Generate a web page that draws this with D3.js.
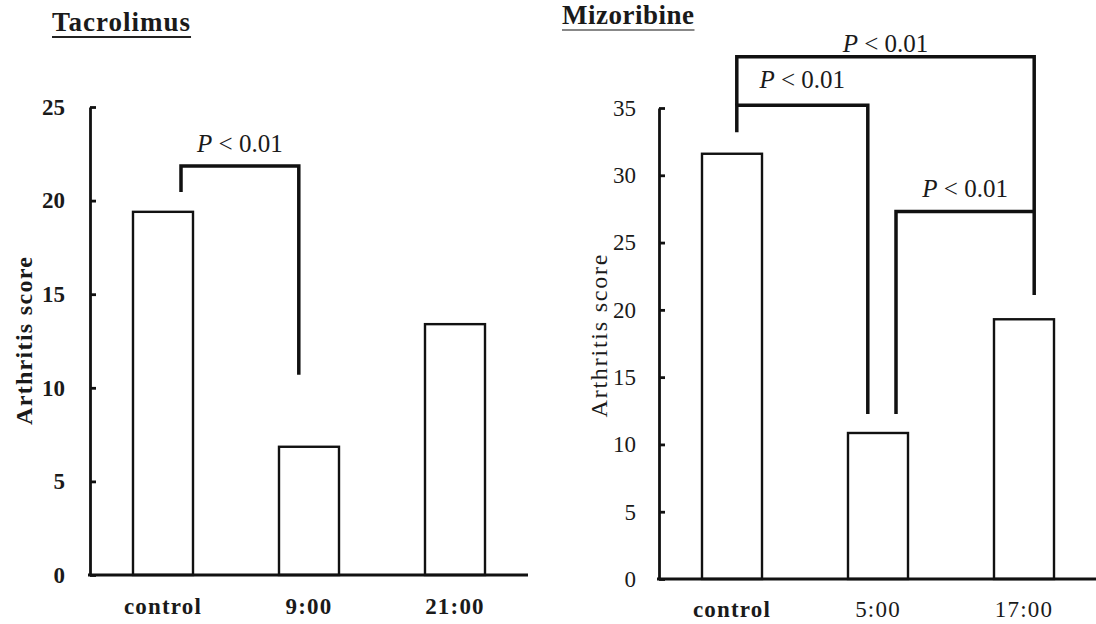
<!DOCTYPE html>
<html>
<head>
<meta charset="utf-8">
<script src="https://cdn.jsdelivr.net/npm/d3@7"></script>
<style>
  html, body { margin: 0; padding: 0; background: #fff; }
  svg { display: block; }
  text { font-family: "Liberation Serif", "Times New Roman", serif; fill: #1a1a1a; }
</style>
</head>
<body>
<svg id="chart" width="1096" height="624"></svg>
<script>
// ---------- data ----------
const leftTitle = "Tacrolimus";
const rightTitle = "Mizoribine";
const yLabel = "Arthritis score";
const pLabel = " < 0.01";

const leftCategories = ["control", "9:00", "21:00"];
const leftValues = [19.4, 6.85, 13.4];
const leftTicks = [0, 5, 10, 15, 20, 25];

const rightCategories = ["control", "5:00", "17:00"];
const rightValues = [31.6, 10.85, 19.3];
const rightTicks = [0, 5, 10, 15, 20, 25, 30, 35];

// significance brackets: category anchors (offset as fraction of bar width), heights in score units
const leftBrackets = [
  { a: "control", aOff: 0.30, aBottom: 20.46, b: "9:00", bOff: -0.17, bBottom: 10.7, top: 21.85, labelY: 22.6 }
];
const rightBrackets = [
  { a: "control", aOff: 0.08, aBottom: 33.2, b: "5:00", bOff: -0.17, bBottom: 12.26, top: 35.2, labelY: 36.49 },
  { a: "control", aOff: 0.08, aBottom: 35.2, b: "17:00", bOff: 0.17, bBottom: 21.1, top: 38.8, labelY: 39.16 },
  { a: "5:00", aOff: 0.30, aBottom: 12.26, b: "17:00", bOff: 0.17, bBottom: 27.3, top: 27.3, labelY: 28.39 }
];

// ---------- drawing ----------
const svg = d3.select("#chart");
svg.append("rect").attr("width", 1096).attr("height", 624).attr("fill", "#fff");

function panel(cfg) {
  const g = svg.append("g");
  const x = d3.scaleBand().domain(cfg.categories).range(cfg.xRange)
    .paddingInner(0.589).paddingOuter(0.2945);
  const y = d3.scaleLinear().domain(cfg.yDomain).range(cfg.yRange);

  // title with underline
  const t = g.append("text")
    .attr("x", cfg.titleX).attr("y", cfg.titleY)
    .attr("font-size", 27).attr("font-weight", "bold")
    .attr("letter-spacing", cfg.titleSpacing)
    .text(cfg.title);
  const tw = t.node().getComputedTextLength();
  g.append("line")
    .attr("x1", cfg.titleX).attr("x2", cfg.titleX + tw)
    .attr("y1", cfg.titleY + 6).attr("y2", cfg.titleY + 6)
    .attr("stroke", cfg.underlineColor).attr("stroke-width", 1.8);

  // bars
  g.selectAll("rect.bar")
    .data(cfg.values)
    .join("rect")
    .attr("class", "bar")
    .attr("x", (d, i) => x(cfg.categories[i]))
    .attr("width", x.bandwidth())
    .attr("y", d => y(d))
    .attr("height", d => y(0) - y(d))
    .attr("fill", "#fff")
    .attr("stroke", "#111")
    .attr("stroke-width", 2.4);

  // y axis
  const ax = g.append("g")
    .attr("transform", `translate(${cfg.xRange[0]},0)`)
    .call(d3.axisLeft(y).tickValues(cfg.ticks).tickSize(-6).tickSizeOuter(0).tickPadding(cfg.tickPad).tickFormat(d3.format("d")));
  ax.select(".domain").attr("stroke", "#111").attr("stroke-width", 2.8);
  ax.selectAll(".tick line").attr("stroke", "#111").attr("stroke-width", 2.8);
  ax.selectAll(".tick text")
    .attr("font-size", 23)
    .attr("font-weight", cfg.tickWeight)
    .attr("fill", "#1a1a1a");

  // x axis baseline
  g.append("line")
    .attr("x1", cfg.xRange[0] - 2).attr("x2", cfg.xRange[1])
    .attr("y1", y(0)).attr("y2", y(0))
    .attr("stroke", "#111").attr("stroke-width", 2.8);

  // category labels
  g.selectAll("text.cat")
    .data(cfg.categories)
    .join("text")
    .attr("class", "cat")
    .attr("x", d => x(d) + x.bandwidth() / 2)
    .attr("y", cfg.catY)
    .attr("text-anchor", "middle")
    .attr("font-size", 23)
    .attr("letter-spacing", 1.2)
    .attr("font-weight", (d, i) => (i === 0 || cfg.tickWeight === "bold") ? "bold" : "normal")
    .text(d => d);

  // y title
  g.append("text")
    .attr("transform", `translate(${cfg.yTitleX},${cfg.yTitleY}) rotate(-90)`)
    .attr("text-anchor", "middle")
    .attr("font-size", 24)
    .attr("font-weight", cfg.tickWeight)
    .attr("textLength", cfg.yTitleLen)
    .attr("lengthAdjust", "spacing")
    .text(yLabel);

  // brackets
  const bx = (cat, off) => x(cat) + x.bandwidth() / 2 + off * x.bandwidth();
  cfg.brackets.forEach(b => {
    const xa = bx(b.a, b.aOff), xb = bx(b.b, b.bOff);
    g.append("path")
      .attr("d", `M${xa},${y(b.aBottom)}V${y(b.top)}H${xb}V${y(b.bBottom)}`)
      .attr("fill", "none")
      .attr("stroke", "#111")
      .attr("stroke-width", 3.5)
      .attr("stroke-linejoin", "miter");
    const lt = g.append("text")
      .attr("x", (xa + xb) / 2)
      .attr("y", y(b.labelY))
      .attr("text-anchor", "middle")
      .attr("font-size", 25);
    lt.append("tspan").attr("font-style", "italic").text("P");
    lt.append("tspan").text(pLabel);
  });
}

panel({
  title: leftTitle, titleX: 52, titleY: 31, titleSpacing: 1.0, underlineColor: "#222",
  categories: leftCategories, values: leftValues, ticks: leftTicks,
  xRange: [90, 528], yDomain: [0, 25], yRange: [575, 107],
  tickWeight: "bold", tickPad: 25, catY: 614,
  yTitleX: 32, yTitleY: 341, yTitleLen: 168,
  brackets: leftBrackets
});

panel({
  title: rightTitle, titleX: 562, titleY: 24, titleSpacing: 0.5, underlineColor: "#888",
  categories: rightCategories, values: rightValues, ticks: rightTicks,
  xRange: [659, 1097], yDomain: [0, 35], yRange: [579, 108],
  tickWeight: "normal", tickPad: 23, catY: 617,
  yTitleX: 607, yTitleY: 336, yTitleLen: 163,
  brackets: rightBrackets
});
</script>
</body>
</html>
